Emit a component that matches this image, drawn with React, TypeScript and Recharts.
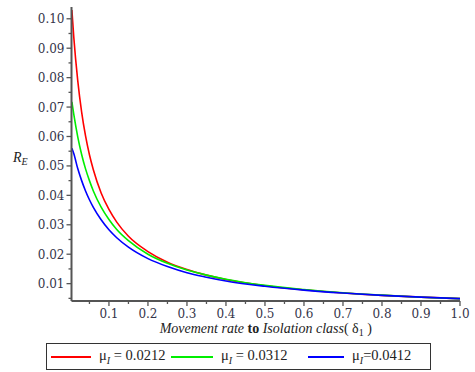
import React from "react";
import { LineChart, Line, XAxis, YAxis } from "recharts";

// Movement rate to isolation class (δ1)
const delta1 = [
  0.005, 0.01, 0.02, 0.03, 0.04, 0.05, 0.06, 0.08, 0.1, 0.12, 0.15, 0.2, 0.25,
  0.3, 0.35, 0.4, 0.5, 0.6, 0.7, 0.8, 0.9, 1.0,
];

// R_E for μ_I = 0.0212
const reMu0212 = [
  0.103, 0.0935, 0.079, 0.0683, 0.0602, 0.0538, 0.0487, 0.0408, 0.0352,
  0.0309, 0.0261, 0.0209, 0.0173, 0.0148, 0.0129, 0.0114, 0.0093, 0.0079,
  0.0068, 0.006, 0.0054, 0.0049,
];

// R_E for μ_I = 0.0312
const reMu0312 = [
  0.0718, 0.0674, 0.0599, 0.0539, 0.049, 0.045, 0.0415, 0.036, 0.0318, 0.0284,
  0.0246, 0.02, 0.0169, 0.0146, 0.0129, 0.0115, 0.0094, 0.008, 0.0069, 0.0061,
  0.0054, 0.0049,
];

// R_E for μ_I = 0.0412
const reMu0412 = [
  0.056, 0.0541, 0.0491, 0.045, 0.0415, 0.0385, 0.0359, 0.0317, 0.0283,
  0.0256, 0.0224, 0.0185, 0.0158, 0.0137, 0.0122, 0.0109, 0.0091, 0.0078,
  0.0068, 0.006, 0.0054, 0.0049,
];

const xTicks = [
  0.05, 0.1, 0.15, 0.2, 0.25, 0.3, 0.35, 0.4, 0.45, 0.5, 0.55, 0.6, 0.65, 0.7,
  0.75, 0.8, 0.85, 0.9, 0.95, 1.0,
];
const yTicks = [
  0.005, 0.01, 0.015, 0.02, 0.025, 0.03, 0.035, 0.04, 0.045, 0.05, 0.055, 0.06,
  0.065, 0.07, 0.075, 0.08, 0.085, 0.09, 0.095, 0.1,
];

const seriesNames = ["0.0212", "0.0312", "0.0412"];
const seriesColors = ["#ff0000", "#00ee00", "#0000ff"];

const data = delta1.map((d, i) => ({
  d,
  a: reMu0212[i],
  b: reMu0312[i],
  c: reMu0412[i],
}));

const AXIS_COLOR = "#555";
const TEXT_COLOR = "#34344a";
const TICK_FONT = "'DejaVu Serif', serif";

const isMajor = (v: number, per: number) =>
  Math.abs(v * per - Math.round(v * per)) < 1e-6;

const XTick = (props: any) => {
  const { x, y, payload } = props;
  const v = payload.value as number;
  const major = isMajor(v, 10);
  return (
    <g>
      <line x1={x} x2={x} y1={y} y2={y + (major ? 5 : 3)} stroke={AXIS_COLOR} strokeWidth={1.3} />
      {major && (
        <text x={x} y={y + 17} textAnchor="middle" fontSize={12} fontFamily={TICK_FONT} fill={TEXT_COLOR}>
          {v.toFixed(1)}
        </text>
      )}
    </g>
  );
};

const YTick = (props: any) => {
  const { x, y, payload } = props;
  const v = payload.value as number;
  const major = isMajor(v, 100);
  return (
    <g>
      <line x1={x} x2={x - (major ? 5 : 3)} y1={y} y2={y} stroke={AXIS_COLOR} strokeWidth={1.3} />
      {major && (
        <text x={x - 7} y={y + 4.5} textAnchor="end" fontSize={12} fontFamily={TICK_FONT} fill={TEXT_COLOR}>
          {v.toFixed(2)}
        </text>
      )}
    </g>
  );
};

const XTitle = (props: any) => {
  const vb = props.viewBox || { x: 71.5, y: 301, width: 388.5 };
  const cx = vb.x + vb.width / 2;
  return (
    <text x={cx} y={vb.y + 32} textAnchor="middle" fontFamily="'Liberation Serif', serif" fontSize={14} fill="#222">
      <tspan fontStyle="italic">Movement rate </tspan>
      <tspan fontWeight="bold">to </tspan>
      <tspan fontStyle="italic">Isolation class</tspan>
      <tspan>( δ</tspan>
      <tspan dy={3} fontSize={10}>1</tspan>
      <tspan dy={-3}> )</tspan>
    </text>
  );
};

const YTitle = () => (
  <text x={13} y={162} fontFamily="'Liberation Serif', serif" fontSize={14} fill="#222">
    <tspan fontStyle="italic">R</tspan>
    <tspan dy={3} fontSize={10} fontStyle="italic">E</tspan>
  </text>
);

// legend entries: left offset of each swatch inside the box, and swatch width
const legendLeft = [4, 124, 261];
const legendSwatch = [40, 42, 36];

const LegendBox = () => (
  <div
    style={{
      position: "absolute",
      left: 46,
      top: 343,
      width: 383,
      height: 25,
      border: "1px solid #333",
      background: "#fff",
      fontFamily: "'Liberation Serif', serif",
      fontSize: 14.5,
      color: "#222",
      whiteSpace: "nowrap",
    }}
  >
    {seriesNames.map((n, i) => (
      <div
        key={n}
        style={{
          position: "absolute",
          left: legendLeft[i],
          top: 0,
          height: 25,
          display: "flex",
          alignItems: "center",
        }}
      >
        <span style={{ display: "inline-block", width: legendSwatch[i], height: 2, background: seriesColors[i], marginRight: 8 }} />
        <span>
          μ<sub style={{ fontStyle: "italic", fontSize: 10 }}>I</sub>
          {i === 2 ? "=" : " = "}
          {n}
        </span>
      </div>
    ))}
  </div>
);

export default function App() {
  return (
    <div style={{ position: "absolute", left: 0, top: 0, width: 475, height: 372, background: "#fff" }}>
      <LineChart
        width={475}
        height={372}
        data={data}
        margin={{ top: 7, right: 15, bottom: 41, left: 11.5 }}
      >
        <XAxis
          dataKey="d"
          type="number"
          domain={[0.004, 1]}
          ticks={xTicks}
          interval={0}
          height={30}
          tickSize={0}
          tickMargin={0}
          tickLine={false}
          tick={<XTick />}
          axisLine={{ stroke: AXIS_COLOR, strokeWidth: 2 }}
          allowDataOverflow
          label={{ content: <XTitle /> }}
        />
        <YAxis
          type="number"
          domain={[0.0041, 0.104]}
          ticks={yTicks}
          interval={0}
          width={60}
          tickSize={0}
          tickMargin={0}
          tickLine={false}
          tick={<YTick />}
          axisLine={{ stroke: AXIS_COLOR, strokeWidth: 2 }}
          allowDataOverflow
          label={{ content: <YTitle /> }}
        />
        <Line type="monotone" dataKey="a" stroke={seriesColors[0]} strokeWidth={1.6} dot={false} isAnimationActive={false} />
        <Line type="monotone" dataKey="b" stroke={seriesColors[1]} strokeWidth={1.6} dot={false} isAnimationActive={false} />
        <Line type="monotone" dataKey="c" stroke={seriesColors[2]} strokeWidth={1.6} dot={false} isAnimationActive={false} />
      </LineChart>
      <LegendBox />
    </div>
  );
}
